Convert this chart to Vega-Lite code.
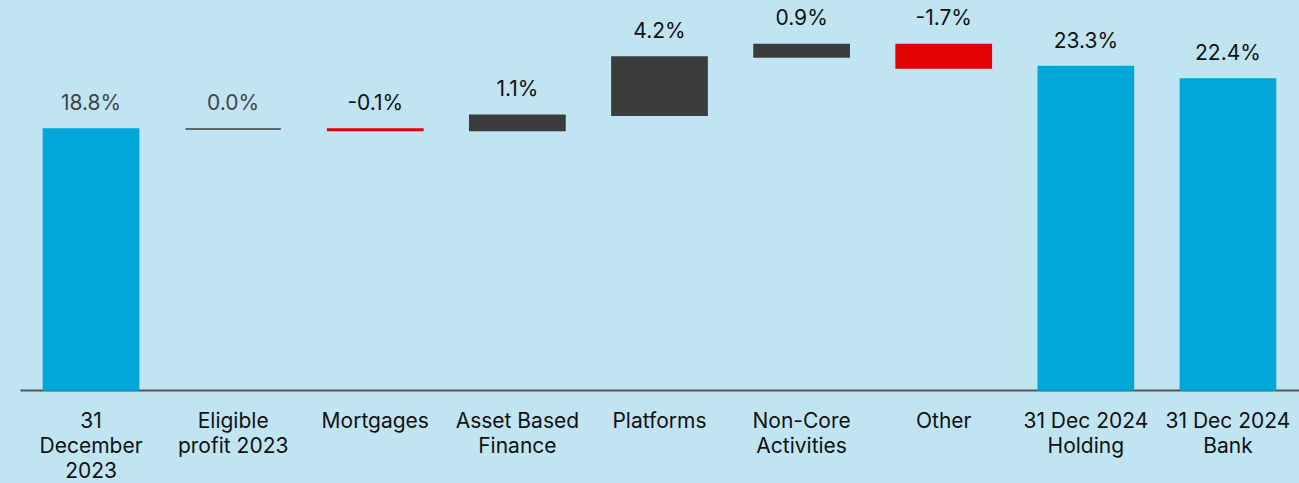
{
  "$schema": "https://vega.github.io/schema/vega-lite/v6.json",
  "width": 1279,
  "height": 390,
  "autosize": "none",
  "padding": {"left": 20, "top": 0, "right": 0, "bottom": 93},
  "background": "#C1E4F2",
  "config": {"view": {"stroke": null}, "font": "Inter"},
  "data": {
    "values": [
      {"category": "31 December 2023", "start": 0, "end": 18.8, "type": "total", "label": "18.8%"},
      {"category": "Eligible profit 2023", "start": 18.8, "end": 18.8, "type": "increase", "label": "0.0%"},
      {"category": "Mortgages", "start": 18.8, "end": 18.7, "type": "decrease", "label": "-0.1%"},
      {"category": "Asset Based Finance", "start": 18.7, "end": 19.8, "type": "increase", "label": "1.1%"},
      {"category": "Platforms", "start": 19.8, "end": 24.0, "type": "increase", "label": "4.2%"},
      {"category": "Non-Core Activities", "start": 24.0, "end": 24.9, "type": "increase", "label": "0.9%"},
      {"category": "Other", "start": 24.9, "end": 23.2, "type": "decrease", "label": "-1.7%"},
      {"category": "31 Dec 2024 Holding", "start": 0, "end": 23.3, "type": "total", "label": "23.3%"},
      {"category": "31 Dec 2024 Bank", "start": 0, "end": 22.4, "type": "total", "label": "22.4%"}
    ]
  },
  "encoding": {
    "x": {
      "field": "category",
      "type": "nominal",
      "sort": null,
      "scale": {"paddingInner": 0.33, "paddingOuter": 0.165},
      "axis": {
        "title": null,
        "ticks": false,
        "labelAngle": 0,
        "labelFontSize": 21,
        "labelColor": "#111111",
        "labelPadding": 20,
        "labelBaseline": "top",
        "labelLineHeight": 25,
        "domainColor": "#555555",
        "domainWidth": 2,
        "labelExpr": "datum.value == '31 December 2023' ? ['31','December','2023'] : datum.value == 'Eligible profit 2023' ? ['Eligible','profit 2023'] : datum.value == 'Asset Based Finance' ? ['Asset Based','Finance'] : datum.value == 'Non-Core Activities' ? ['Non-Core','Activities'] : datum.value == '31 Dec 2024 Holding' ? ['31 Dec 2024','Holding'] : datum.value == '31 Dec 2024 Bank' ? ['31 Dec 2024','Bank'] : datum.value"
      }
    }
  },
  "layer": [
    {
      "mark": {"type": "bar", "strokeWidth": 1.5},
      "encoding": {
        "y": {"field": "start", "type": "quantitative", "scale": {"domain": [0, 28.1], "nice": false}, "axis": null},
        "y2": {"field": "end"},
        "color": {
          "field": "type",
          "type": "nominal",
          "scale": {"domain": ["total", "increase", "decrease"], "range": ["#00A7D8", "#3C3C3C", "#E30000"]},
          "legend": null
        },
        "stroke": {
          "field": "type",
          "type": "nominal",
          "scale": {"domain": ["total", "increase", "decrease"], "range": ["#00A7D8", "#3C3C3C", "#E30000"]},
          "legend": null
        }
      }
    },
    {
      "transform": [{"calculate": "max(datum.start, datum.end)", "as": "top"}],
      "mark": {"type": "text", "baseline": "bottom", "dy": -15, "fontSize": 21},
      "encoding": {
        "y": {"field": "top", "type": "quantitative"},
        "text": {"field": "label"},
        "color": {
          "condition": {"test": "datum.category == '31 December 2023' || datum.category == 'Eligible profit 2023'", "value": "#444444"},
          "value": "#111111"
        }
      }
    }
  ]
}
